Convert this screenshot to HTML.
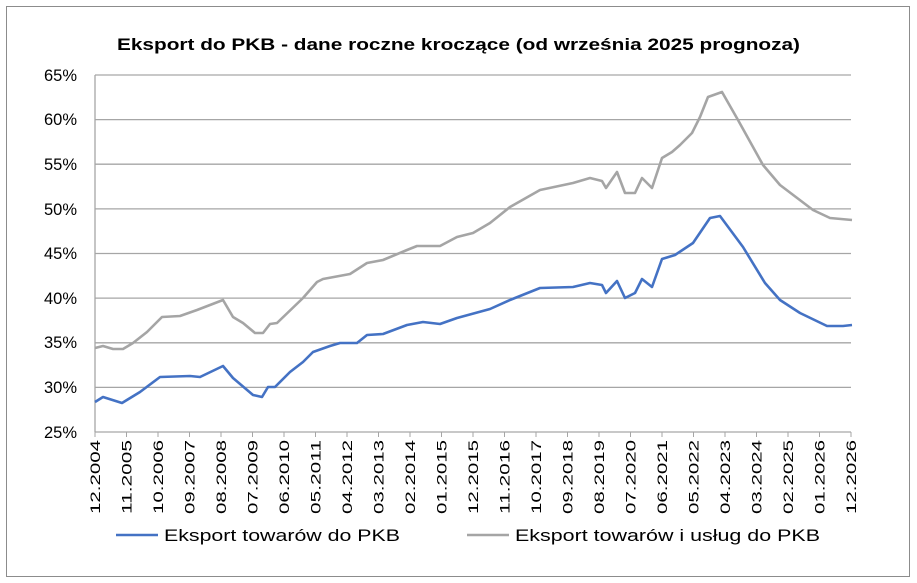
<!DOCTYPE html>
<html><head><meta charset="utf-8"><style>
body{margin:0;background:#fff;}
svg{display:block;font-family:"Liberation Sans",sans-serif;}
</style></head><body>
<svg width="917" height="583" viewBox="0 0 917 583">
<rect x="0" y="0" width="917" height="583" fill="#fff"/>
<rect x="6.5" y="6.5" width="903" height="570" fill="none" stroke="#8c8c8c" stroke-width="1"/>
<text x="117" y="50" textLength="683" lengthAdjust="spacingAndGlyphs" font-size="17" font-weight="bold" fill="#000">Eksport do PKB - dane roczne kroczące (od września 2025 prognoza)</text>
<g stroke="#a6a6a6" stroke-width="1.3">
<line x1="95" x2="851" y1="75" y2="75"/><line x1="95" x2="851" y1="119.6" y2="119.6"/>
<line x1="95" x2="851" y1="164.2" y2="164.2"/><line x1="95" x2="851" y1="208.9" y2="208.9"/>
<line x1="95" x2="851" y1="253.5" y2="253.5"/><line x1="95" x2="851" y1="298.1" y2="298.1"/>
<line x1="95" x2="851" y1="342.8" y2="342.8"/><line x1="95" x2="851" y1="387.4" y2="387.4"/>
<line x1="95" x2="851" y1="432" y2="432"/>
<line x1="95" x2="95" y1="75" y2="432"/>
</g>
<g font-size="16.5" fill="#000" text-anchor="end">
<text x="77" y="81">65%</text><text x="77" y="125">60%</text><text x="77" y="170">55%</text>
<text x="77" y="215">50%</text><text x="77" y="259">45%</text><text x="77" y="304">40%</text>
<text x="77" y="348">35%</text><text x="77" y="393">30%</text><text x="77" y="438">25%</text>
</g>
<g id="ticks" stroke="#a6a6a6" stroke-width="1"></g>
<g id="xl" font-size="13.5" fill="#000"></g>
<polyline fill="none" stroke="#a5a5a5" stroke-width="2.6" stroke-linejoin="round" points="95,348 103,346 113,349 123,349 133,343 147,332 162,317 180,316 197,310 223,300 233,317 243,323 255,333 263,333 270,324 277,323 303,298 317,282 323,279 350,274 367,263 383,260 407,250 417,246 440,246 457,237 473,233 490,223 510,207 540,190 573,183 590,178 602,181 606,188 617,172 625,193 635,193 642,178 652,188 662,158 672,152 680,145 692,133 700,117 708,97 722,92 738,120 763,165 780,185 813,210 830,218 852,220"/>
<polyline fill="none" stroke="#4472c4" stroke-width="2.6" stroke-linejoin="round" points="95,402 103,397 122,403 140,392 160,377 190,376 200,377 223,366 233,378 253,395 262,397 268,387 275,387 290,372 303,362 313,352 330,346 340,343 357,343 367,335 383,334 407,325 423,322 440,324 457,318 490,309 510,300 540,288 573,287 590,283 602,285 606,293 617,281 625,298 635,293 642,279 652,287 662,259 675,255 693,243 710,218 720,216 743,247 765,283 780,300 800,313 827,326 843,326 852,325"/>
<line x1="116" x2="158" y1="535" y2="535" stroke="#4472c4" stroke-width="2.6"/>
<text x="164" y="541" font-size="16.5" textLength="236" lengthAdjust="spacingAndGlyphs" fill="#000">Eksport towarów do PKB</text>
<line x1="467" x2="509" y1="535" y2="535" stroke="#a5a5a5" stroke-width="2.6"/>
<text x="515" y="541" font-size="16.5" textLength="305" lengthAdjust="spacingAndGlyphs" fill="#000">Eksport towarów i usług do PKB</text>
</svg>
<script>
var labs=["12.2004","11.2005","10.2006","09.2007","08.2008","07.2009","06.2010","05.2011","04.2012","03.2013","02.2014","01.2015","12.2015","11.2016","10.2017","09.2018","08.2019","07.2020","06.2021","05.2022","04.2023","03.2024","02.2025","01.2026","12.2026"];
var ns="http://www.w3.org/2000/svg",t=document.getElementById("ticks"),g=document.getElementById("xl");
for(var i=0;i<labs.length;i++){var x=95+i*756/24;
var l=document.createElementNS(ns,"line");l.setAttribute("x1",x);l.setAttribute("x2",x);l.setAttribute("y1",432);l.setAttribute("y2",437);t.appendChild(l);
var tx=document.createElementNS(ns,"text");tx.setAttribute("transform","translate("+(x+5)+",440) rotate(-90)");tx.setAttribute("text-anchor","end");tx.setAttribute("textLength","74");tx.setAttribute("lengthAdjust","spacingAndGlyphs");tx.textContent=labs[i];g.appendChild(tx);}
</script>
</body></html>
